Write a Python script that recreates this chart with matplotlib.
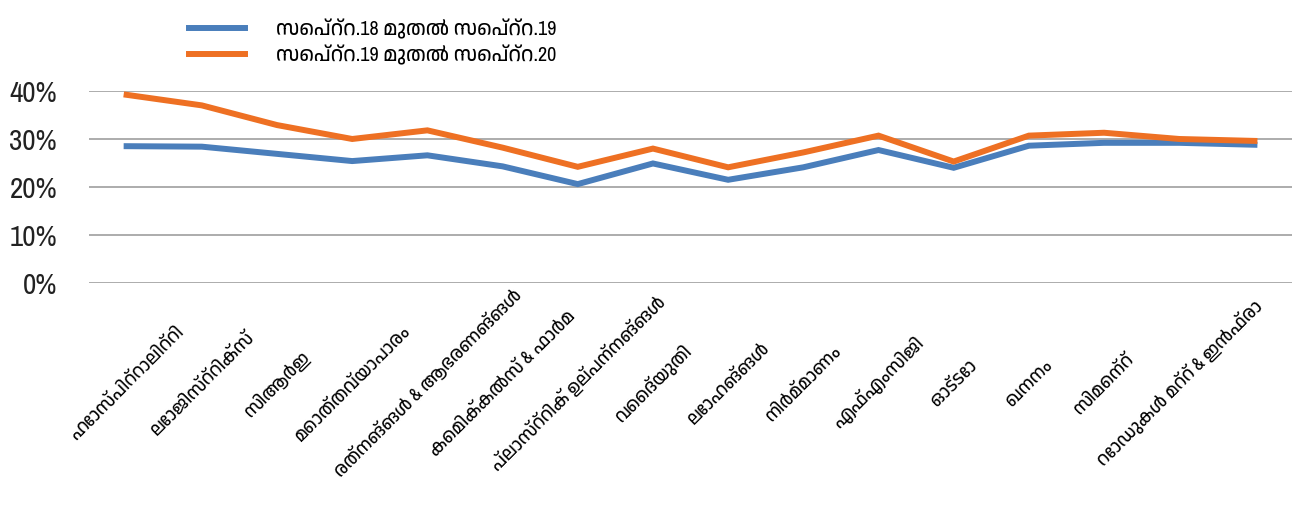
import matplotlib
matplotlib.use("Agg")
import matplotlib.pyplot as plt
from matplotlib import font_manager
from matplotlib.ticker import PercentFormatter

# find a Malayalam font and a narrow latin font if installed
names = sorted({f.name for f in font_manager.fontManager.ttflist})
mal = [n for n in names if "Malayalam" in n or "Manjari" in n or "Rachana" in n or "Meera" in n]
narrow = [n for n in names if "Narrow" in n or "Condensed" in n]
fams = narrow[:1] + mal[:1] + ["DejaVu Sans"]
plt.rcParams["font.family"] = fams

categories = ["ഹോസ്പിറ്റാലിറ്റി", "ലോജിസ്റ്റിക്സ്", "സിആർഇ", "മൊത്തവ്യാപാരം",
              "രത്നങ്ങൾ & ആഭരണങ്ങൾ", "കെമിക്കൽസ് & ഫാർമ", "പ്ലാസ്റ്റിക് ഉല്പന്നങ്ങൾ",
              "വൈദ്യുതി", "ലോഹങ്ങൾ", "നിർമ്മാണം", "എഫ്എംസിജി", "ഓട്ടോ", "ഖനനം",
              "സിമെന്റ്", "റോഡുകൾ മറ്റ് & ഇൻഫ്രാ", ""]
sep18_19 = [28.5, 28.4, 26.9, 25.4, 26.6, 24.3, 20.6, 24.9, 21.5, 24.1, 27.7, 24.0, 28.6, 29.2, 29.2, 28.8]
sep19_20 = [39.2, 37.0, 32.9, 30.0, 31.8, 28.2, 24.2, 28.0, 24.1, 27.2, 30.7, 25.3, 30.7, 31.3, 30.0, 29.6]
series_names = ["സെപ്റ്റ.18 മുതൽ സെപ്റ്റ.19", "സെപ്റ്റ.19 മുതൽ സെപ്റ്റ.20"]

fig = plt.figure(figsize=(12.98, 5.14), dpi=100)
ax = fig.add_axes([0.0686, 0.4494, 0.9268, 0.3736])

x = range(len(categories))
ax.plot(x, sep18_19, color="#4A7EBB", lw=4.3, solid_joinstyle="miter", label=series_names[0])
ax.plot(x, sep19_20, color="#EE7023", lw=4.3, solid_joinstyle="miter", label=series_names[1])

ax.set_xlim(-0.5, len(categories) - 0.5)
ax.set_ylim(0, 40)
ax.set_yticks([0, 10, 20, 30, 40])
ax.yaxis.set_major_formatter(PercentFormatter(decimals=0))
ax.grid(axis="y", color="#A6A6A6", lw=1.3)
ax.set_axisbelow(True)
for s in ax.spines.values():
    s.set_visible(False)

ysize = 21 if narrow else 19
ax.tick_params(axis="y", length=0, pad=23, labelsize=ysize, labelcolor="#222222")
ax.set_xticks(list(x))
ax.set_xticklabels(categories, rotation=45, ha="center", va="center", fontsize=13)
ax.tick_params(axis="x", length=0, pad=72)

leg = ax.legend(loc="lower left", bbox_to_anchor=(0.068, 1.04), frameon=False,
                fontsize=14.5, handlelength=2.8, handletextpad=1.5, labelspacing=0.3)

fig.savefig("out.png", dpi=100)
